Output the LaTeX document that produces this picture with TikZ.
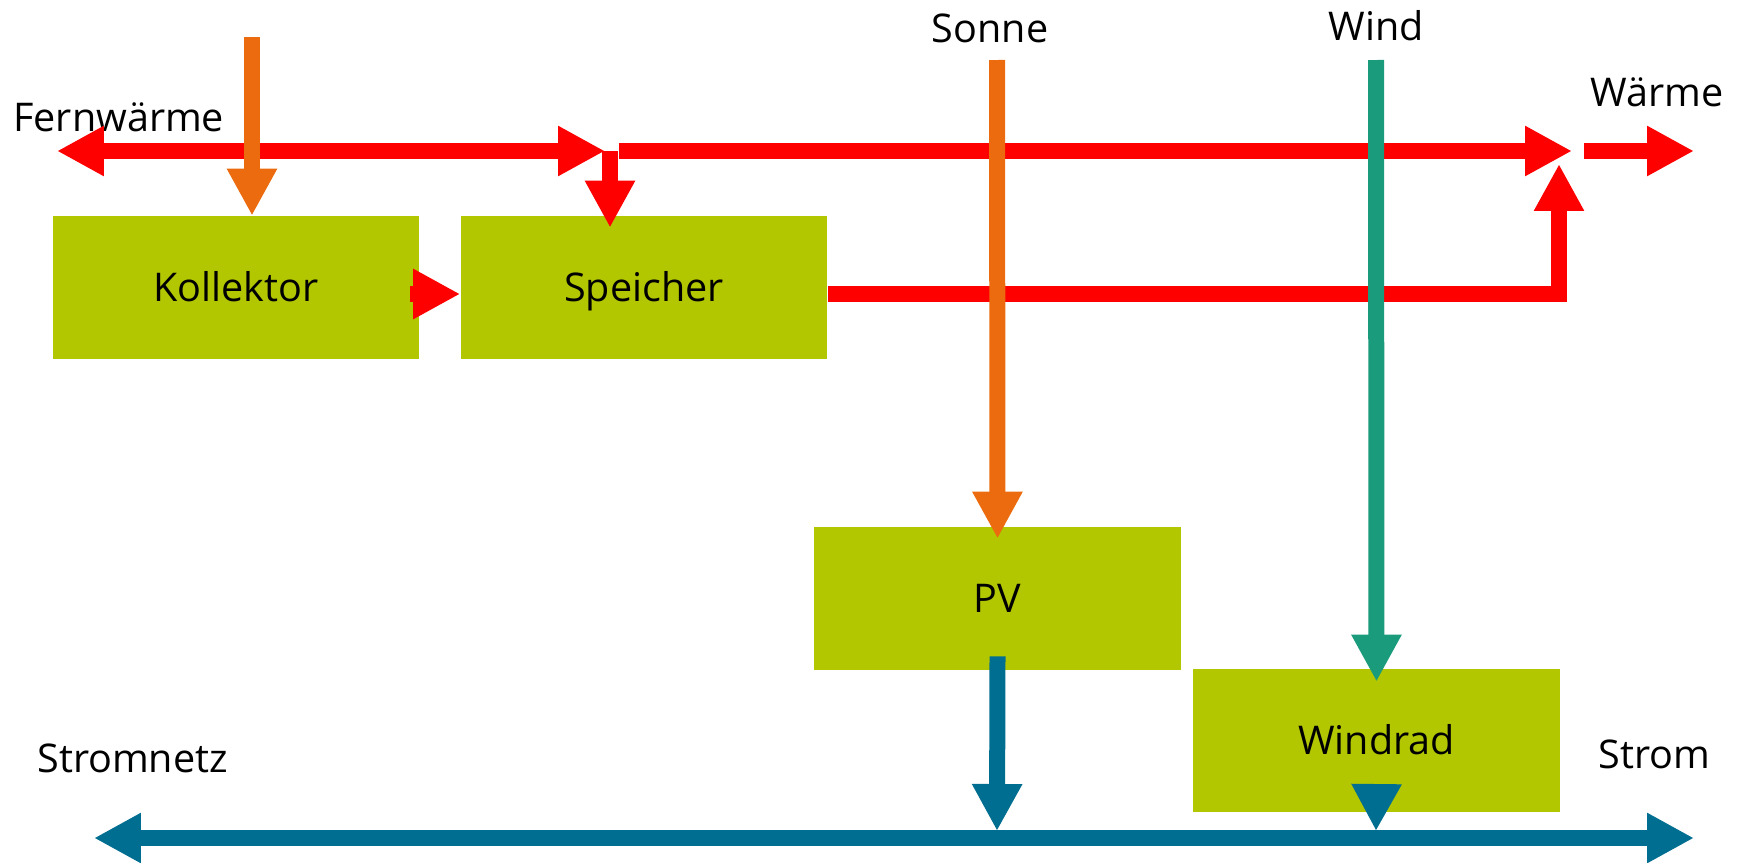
\documentclass[tikz,border=0pt]{standalone}
\usepackage{fontspec}
\setmainfont{Open Sans}
\usepackage{xcolor}
\usepackage{tikz}
\usetikzlibrary{arrows.meta}

\definecolor{boxgreen}{RGB}{178,199,0}
\definecolor{heatred}{RGB}{255,0,0}
\definecolor{sunorange}{RGB}{235,107,14}
\definecolor{windgreen}{RGB}{26,155,123}
\definecolor{powerblue}{RGB}{0,110,145}

\begin{document}
\begin{tikzpicture}[x=0.02cm, y=-0.02cm,
  unit/.style={fill=boxgreen, minimum width=7.34cm, minimum height=2.86cm, inner sep=0pt, text height=0.57cm, text depth=0pt, font=\fontsize{22.5}{27}\selectfont},
  txt/.style={inner sep=0pt, font=\fontsize{22.5}{27}\selectfont},
  flow/.style={line width=0.32cm, -{Triangle[length=0.94cm, width=0.94cm]}},
  twoway/.style={line width=0.32cm, {Triangle[length=0.94cm, width=0.94cm]}-{Triangle[length=0.94cm, width=0.94cm]}}]
\useasboundingbox (0,0) rectangle (1746,862);
\node[unit] (koll) at (236,287.5) {Kollektor};
\node[unit] (spei) at (644,287.5) {Speicher};
\node[unit] (pv) at (997.5,598.5) {PV};
\node[unit] (wrad) at (1376.5,740.5) {Windrad};
\node[txt, anchor=base west] (fern) at (13,131) {Fernwärme};
\node[txt, anchor=base west] (heat) at (1590,106) {Wärme};
\node[txt, anchor=base] (sun) at (990,42) {Sonne};
\node[txt, anchor=base] (wind) at (1376,40) {Wind};
\node[txt, anchor=base west] (grid) at (37,772) {Stromnetz};
\node[txt, anchor=base west] (power) at (1598,768) {Strom};
\coordinate (fernend) at (57,151);
\coordinate (split) at (605,151);
\coordinate (drop) at (610,151);
\coordinate (heatfrom) at (619,151);
\coordinate (merge) at (1572,151);
\coordinate (heatout) at (1584,151);
\coordinate (heatend) at (1694,151);
\coordinate (rise) at (1559,164);
\coordinate (gridend) at (94,838);
\coordinate (powerend) at (1694,838);
\coordinate (pvjoin) at (997,831);
\coordinate (wradjoin) at (1376,831);
\coordinate (collin) at (252,37);
\coordinate (sunin) at (997,60);
\coordinate (windin) at (1376,60);
% heat
\draw[twoway, heatred] (fernend) -- (split);
\draw[flow, heatred] (drop) -- ([yshift=-0.24cm]spei.north -| drop);
\draw[flow, heatred] (heatfrom) -- (merge);
\draw[flow, heatred] (heatout) -- (heatend);
\draw[flow, heatred] ([xshift=-0.2cm, yshift=-0.13cm]koll.east) -- ([yshift=-0.13cm]spei.west);
\draw[flow, heatred] ([yshift=-0.13cm]spei.east) -| (rise);
% power
\draw[twoway, powerblue] (gridend) -- (powerend);
\draw[flow, powerblue] ([yshift=0.28cm]pv.south) -- (pvjoin);
\draw[flow, powerblue] ([yshift=0.52cm]wrad.south) -- (wradjoin);
% sun and wind
\draw[flow, sunorange] (collin) -- (collin |- koll.north);
\draw[flow, sunorange] (sunin) -- ([yshift=-0.24cm]pv.north);
\draw[flow, windgreen] (windin) -- ([yshift=-0.26cm]wrad.north);
\end{tikzpicture}
\end{document}
